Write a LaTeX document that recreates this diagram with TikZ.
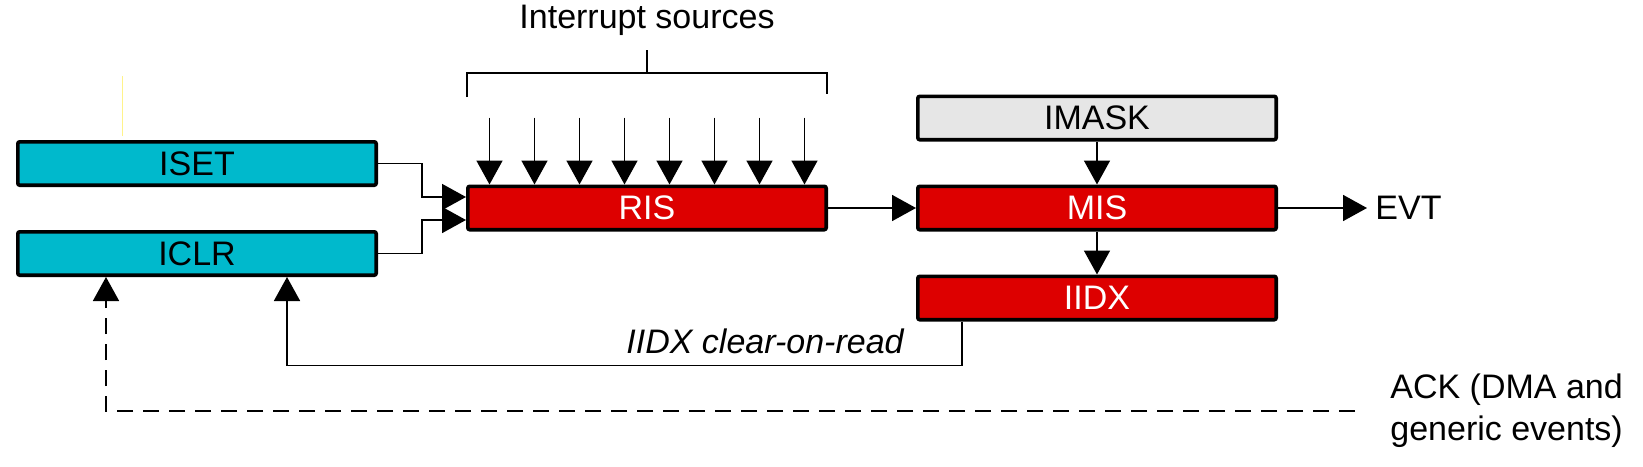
\documentclass[tikz,border=0pt]{standalone}
\usepackage{fontspec}
\setmainfont{Liberation Sans}
\usetikzlibrary{arrows.meta,positioning}
\definecolor{RegCyan}{HTML}{00B9CC}
\definecolor{RegRed}{HTML}{DD0000}
\definecolor{RegGray}{HTML}{E6E6E6}
\definecolor{Stray}{HTML}{FFF38A}
\tikzset{
  regbox/.style={draw=black,line width=1.8pt,rounded corners=1pt,inner sep=0pt,
              minimum width=179.2pt,minimum height=21.7pt,font=\fontsize{17}{21}\selectfont},
  cyanbox/.style={regbox,fill=RegCyan},
  redbox/.style={regbox,fill=RegRed,text=white},
  graybox/.style={regbox,fill=RegGray},
  flow/.style={-{Triangle[length=12pt,width=13pt]},line width=0.85pt,draw=black},
  dashflow/.style={flow,dash pattern=on 8pt off 5pt},
  brace/.style={line width=0.85pt,draw=black},
  note/.style={font=\fontsize{17}{21}\selectfont,align=left,inner sep=0pt}
}

\begin{document}
\begin{tikzpicture}[x=0.5pt,y=-0.5pt,node distance=21.5pt and 44pt]
  \useasboundingbox (0,0) rectangle (1643,466);
  \draw[Stray,line width=0.4pt] (122,76) -- (122,136);
  \node[cyanbox] (iset) at (197,163.5) {ISET};
  \node[cyanbox,below=of iset] (iclr) {ICLR};
  \node[redbox] (ris) at (647,208) {RIS};
  \node[redbox,right=of ris] (mis) {MIS};
  \node[graybox,above=of mis] (imask) {IMASK};
  \node[redbox,below=of mis] (iidx) {IIDX};
  \node[note,inner xsep=4pt,right=44.5pt of mis] (evt) {EVT};
  \node[note,anchor=base] (srclabel) at (647,28) {Interrupt sources};
  \node[note,font=\fontsize{17}{21}\selectfont\itshape,anchor=base east] (clrlabel) at (904,353) {IIDX clear-on-read};
  \node[note,inner xsep=17.5pt,anchor=west] (ack) at (1355,411) {ACK (DMA and\\generic events)};
  \draw[brace] (467,97) -- (467,73) -- (827,73) -- (827,94);
  \draw[brace] (647,73) -- (647,50);
  \foreach \k in {0,...,7}
    \draw[flow] ([xshift=-78.75pt+22.5pt*\k]ris.north) ++(0,-67) -- ([xshift=-78.75pt+22.5pt*\k]ris.north);
  \draw[flow] (iset.east) -- ++(44,0) |- ([yshift=5.5pt]ris.west);
  \draw[flow] (iclr.east) -- ++(44,0) |- ([yshift=-6pt]ris.west);
  \draw[flow] (ris) -- (mis);
  \draw[flow] (imask) -- (mis);
  \draw[flow] (mis) -- (iidx);
  \draw[flow] (mis) -- (evt);
  \draw[flow] ([xshift=-67.5pt]iidx.south) -- ++(0,44) -| ([xshift=45pt]iclr.south);
  \draw[dashflow] (ack.west) -| ([xshift=-45.5pt]iclr.south);
\end{tikzpicture}
\end{document}
